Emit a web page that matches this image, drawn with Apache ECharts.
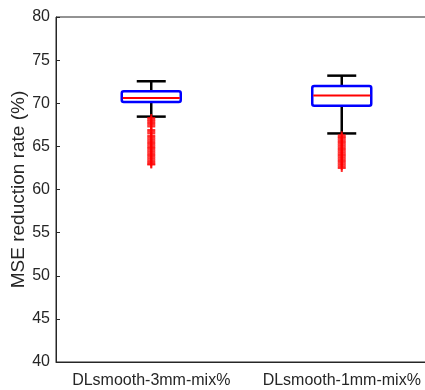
<!DOCTYPE html>
<html>
<head>
<meta charset="utf-8">
<script src="https://cdn.jsdelivr.net/npm/echarts@6/dist/echarts.min.js"></script>
<style>
  html, body { margin: 0; padding: 0; background: #fff; overflow: hidden; }
  /* plot box runs past the right edge of the window, as in the reference */
  #chart { width: 442px; height: 390px; }
</style>
</head>
<body>
<div id="chart"></div>
<script>
  // groups on the x axis
  let categories = ['DLsmooth-3mm-mix%', 'DLsmooth-1mm-mix%'];
  // [lower whisker, Q1, median, Q3, upper whisker]
  let boxStats = [
    [68.45, 70.15, 70.6, 71.4, 72.55],
    [66.5, 69.7, 70.9, 72.0, 73.2]
  ];
  // outliers
  let outliers3mm = [68.3, 68.1, 67.9, 67.7, 67.5, 67.3, 66.9, 66.7, 66.5, 66.2, 66.0, 65.8, 65.6, 65.4,
    65.2, 65.0, 64.8, 64.6, 64.4, 64.2, 64.0, 63.8, 63.6, 63.4, 63.2, 63.0, 62.9];
  let outliers1mm = [66.3, 66.1, 65.9, 65.7, 65.5, 65.3, 65.1, 64.9, 64.7, 64.5, 64.3, 64.1, 63.9, 63.7,
    63.5, 63.3, 63.1, 62.9, 62.7, 62.5];
  let yTicks = [40, 45, 50, 55, 60, 65, 70, 75, 80];

  let boxData = boxStats.map(function (s, i) { return [i].concat(s); });
  let outlierData = outliers3mm.map(function (v) { return [0, v]; })
    .concat(outliers1mm.map(function (v) { return [1, v]; }));

  function renderBox(params, api) {
    let i = api.value(0);
    let pMin = api.coord([i, api.value(1)]);
    let pQ1 = api.coord([i, api.value(2)]);
    let pMed = api.coord([i, api.value(3)]);
    let pQ3 = api.coord([i, api.value(4)]);
    let pMax = api.coord([i, api.value(5)]);
    let cx = pMin[0];
    let halfBox = 29.5, halfCap = 14.5;
    let black = { stroke: '#000', lineWidth: 2.5 };
    return {
      type: 'group',
      children: [
        { type: 'line', shape: { x1: cx, y1: pQ3[1], x2: cx, y2: pMax[1] }, style: black },
        { type: 'line', shape: { x1: cx, y1: pQ1[1], x2: cx, y2: pMin[1] }, style: black },
        { type: 'line', shape: { x1: cx - halfCap, y1: pMax[1], x2: cx + halfCap, y2: pMax[1] }, style: black },
        { type: 'line', shape: { x1: cx - halfCap, y1: pMin[1], x2: cx + halfCap, y2: pMin[1] }, style: black },
        {
          type: 'rect',
          shape: { x: cx - halfBox, y: pQ3[1], width: halfBox * 2, height: pQ1[1] - pQ3[1], r: 2 },
          style: { fill: '#fff', stroke: '#0000ff', lineWidth: 2.5 }
        },
        {
          type: 'line',
          shape: { x1: cx - halfBox + 1, y1: pMed[1], x2: cx + halfBox - 1, y2: pMed[1] },
          style: { stroke: '#ff0000', lineWidth: 2 }
        }
      ]
    };
  }

  let chart = echarts.init(document.getElementById('chart'));
  chart.setOption({
    animation: false,
    grid: {
      left: 56, top: 17, bottom: 28, right: 5,
      outerBoundsMode: 'none',
      containLabel: false,
      show: true, borderColor: '#262626', borderWidth: 1
    },
    xAxis: {
      type: 'category',
      data: categories,
      boundaryGap: true,
      axisLine: { lineStyle: { color: '#262626', width: 1 } },
      axisTick: { inside: true, alignWithLabel: true, length: 4, lineStyle: { color: '#262626' } },
      axisLabel: { interval: 0, color: '#262626', fontSize: 16, fontFamily: 'Liberation Sans', margin: 11 }
    },
    yAxis: {
      type: 'value',
      min: yTicks[0],
      max: yTicks[yTicks.length - 1],
      interval: 5,
      name: 'MSE reduction rate (%)',
      nameLocation: 'middle',
      nameGap: 28,
      nameMoveOverlap: false,
      nameTextStyle: { color: '#262626', fontSize: 19, fontFamily: 'Liberation Sans' },
      splitLine: { show: false },
      axisLine: { show: true, lineStyle: { color: '#262626', width: 1 } },
      axisTick: { show: true, inside: true, length: 4, lineStyle: { color: '#262626' } },
      axisLabel: { color: '#262626', fontSize: 16, fontFamily: 'Liberation Sans', margin: 6 }
    },
    series: [
      {
        type: 'custom',
        renderItem: renderBox,
        data: boxData,
        encode: { x: 0, y: [1, 2, 3, 4, 5] },
        z: 2
      },
      {
        type: 'scatter',
        data: outlierData,
        symbol: 'path://M3,0H5V3H8V5H5V8H3V5H0V3H3Z',
        symbolSize: 8,
        itemStyle: { color: '#ff0000' },
        z: 3
      }
    ]
  });
</script>
</body>
</html>
